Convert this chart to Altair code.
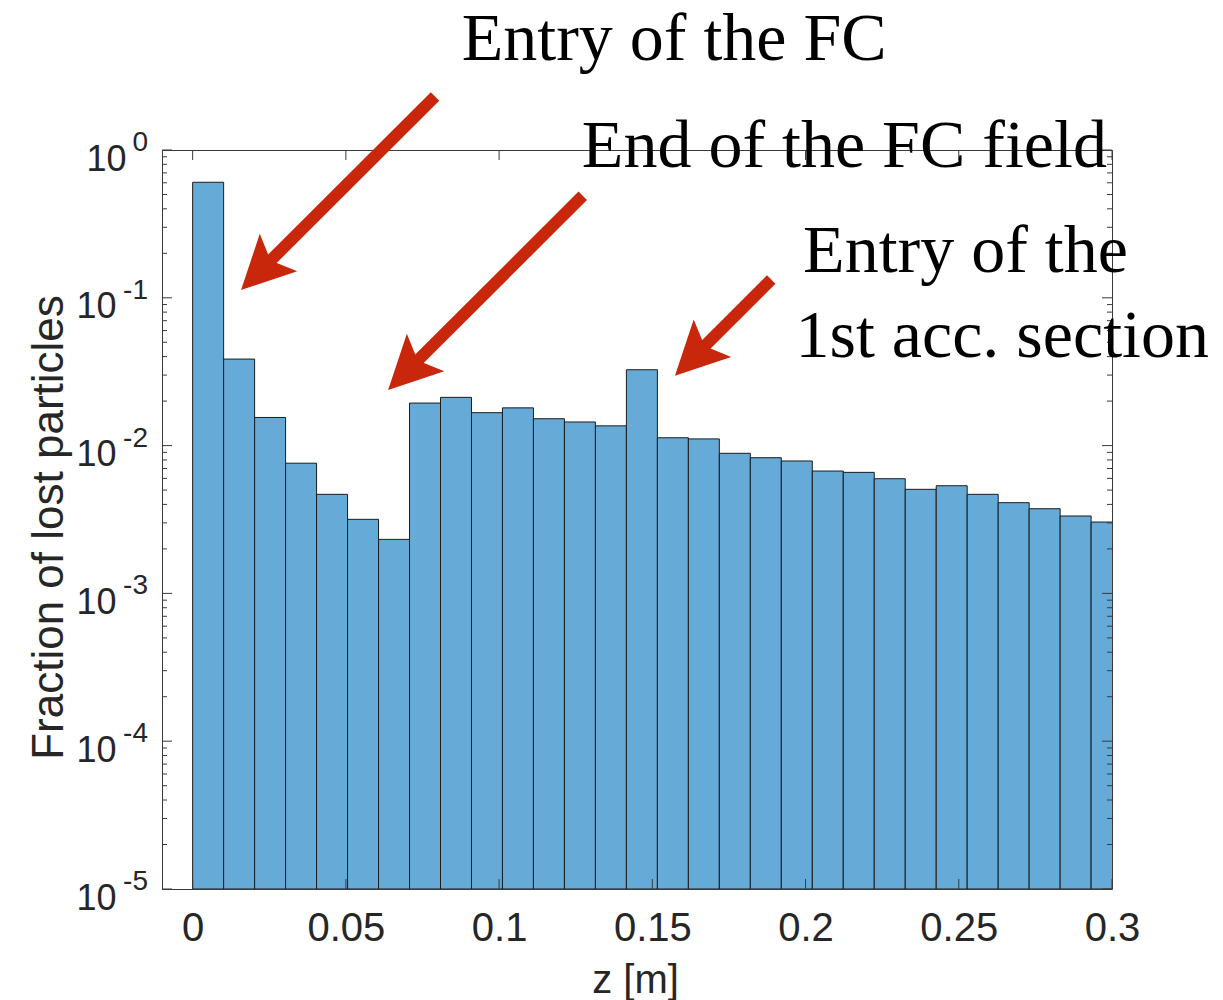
import altair as alt
import numpy as np
import pandas as pd

# ---------------- data ----------------
n_bins = 30
bin_edges = np.linspace(0.0, 0.3033, n_bins + 1)
fractions = [0.605, 0.0385, 0.0155, 0.0076, 0.00468, 0.00317, 0.00232,
             0.0194, 0.0212, 0.0167, 0.0180, 0.0152, 0.01445, 0.0136,
             0.0326, 0.0113, 0.0111, 0.00887, 0.00828, 0.00787, 0.00673,
             0.00659, 0.00597, 0.00506, 0.00535, 0.00468, 0.00411, 0.00374,
             0.00334, 0.00304]

x_ticks = [0, 0.05, 0.1, 0.15, 0.2, 0.25, 0.3]
y_major = [1e-5, 1e-4, 1e-3, 1e-2, 1e-1, 1]
y_exponents = ["-5", "-4", "-3", "-2", "-1", "0"]
y_minor = [m * 10.0 ** k for k in range(-5, 0) for m in range(2, 10)]

notes = ["Entry of the FC", "End of the FC field", "Entry of the", "1st acc. section"]
note_x = [0.0878, 0.1270, 0.1992, 0.1967]
note_y = [4.06, 0.771, 0.150, 0.0400]

arrow_x0 = [0.0791, 0.1273, 0.1888]
arrow_y0 = [2.30, 0.490, 0.133]
arrow_x1 = [0.0219, 0.0699, 0.1635]
arrow_y1 = [0.151, 0.0318, 0.0398]

# ---------------- frames ----------------
bars = pd.DataFrame({"z0": bin_edges[:-1], "z1": bin_edges[1:], "frac": fractions})
xt = pd.DataFrame({"z0": x_ticks})
ymaj = pd.DataFrame({"frac": y_major})
yexp = pd.DataFrame({"frac": y_major, "e": y_exponents})
ymin = pd.DataFrame({"frac": y_minor})
txt = pd.DataFrame({"t": notes, "z0": note_x, "frac": note_y})
arr = pd.DataFrame({"z0": arrow_x0, "frac": arrow_y0, "x1": arrow_x1, "y1": arrow_y1})
hd = pd.DataFrame({"z0": arrow_x1, "frac": arrow_y1})

W, H = 950, 739
AX = "#3a3a3a"
LAB = "#262626"
RED = "#C9270B"

xs = alt.Scale(domain=[-0.01, 0.3], nice=False, zero=False)
ys = alt.Scale(type="log", domain=[1e-5, 1], nice=False)

x_axis = alt.Axis(values=x_ticks, format="~g", labelFontSize=40, labelPadding=51,
                  labelBaseline="alphabetic", labelFlush=False, ticks=False, tickSize=0,
                  titleFontSize=40, titleX=473, titleY=103, titleBaseline="alphabetic",
                  titleAlign="center", titleAnchor="middle")
y_axis = alt.Axis(values=y_major, labelExpr="'10'", labelFontSize=36,
                  labelPadding={"condition": {"test": "datum.value == 1", "value": 36}, "value": 46},
                  labelAlign="right", labelBaseline="alphabetic", labelOffset=20,
                  ticks=False, tickSize=0, titleFontSize=44, titleX=-100, titleY=377,
                  titleAngle=270, titleBaseline="alphabetic", titleAlign="center")

X = alt.X("z0:Q", scale=xs, axis=x_axis, title="z [m]")
Y = alt.Y("frac:Q", scale=ys, axis=y_axis, title="Fraction of lost particles")

bar = alt.Chart(bars).mark_rect(fill="#66AAD7", stroke="#1c1c1c", strokeWidth=1, clip=True).encode(
    x=X, x2="z1:Q", y=Y, y2=alt.datum(1e-5))

def xrule(y0, y1):
    return alt.Chart(xt).mark_rule(color=AX, strokeWidth=1).encode(
        x=X, y=alt.value(y0), y2=alt.value(y1))

def yrule(df, x0, x1):
    return alt.Chart(df).mark_rule(color=AX, strokeWidth=1).encode(
        y=Y, x=alt.value(x0), x2=alt.value(x1))

ticks = [xrule(H, H - 10), xrule(0, 10),
         yrule(ymaj, 0, 10), yrule(ymin, 0, 5),
         yrule(ymaj, W, W - 10), yrule(ymin, W, W - 5)]

exps = alt.Chart(yexp).mark_text(font="Liberation Sans", fontSize=28, color=LAB,
                                 align="right", baseline="alphabetic", dy=1).encode(
    y=Y, x=alt.value(-14), text="e:N")

shaft = alt.Chart(arr).mark_rule(color=RED, strokeWidth=12, strokeCap="butt").encode(
    x=X, y=Y, x2="x1:Q", y2="y1:Q")

head = alt.Chart(hd).mark_point(shape="M0,-1L1,1L0,0.58L-1,1Z", filled=True, size=2809,
                                angle=225, color=RED, opacity=1, strokeWidth=0).encode(
    x=X, y=Y)

labels = alt.Chart(txt).mark_text(font="Liberation Serif", fontSize=68, color="black",
                                  align="left", baseline="alphabetic").encode(
    x=X, y=Y, text="t:N")

chart = alt.layer(bar, *ticks, exps, shaft, head, labels).properties(
    width=W, height=H,
    autosize=alt.AutoSizeParams(type="none"),
    padding={"left": 162, "top": 150, "right": 111, "bottom": 111},
    background="white",
).configure_view(stroke=AX, strokeWidth=1).configure_axis(
    grid=False, domain=False, labelFont="Liberation Sans", titleFont="Liberation Sans",
    labelColor=LAB, titleColor=LAB, titleFontWeight="normal")

chart.save("out.html", embed_options={"renderer": "svg", "actions": False})
